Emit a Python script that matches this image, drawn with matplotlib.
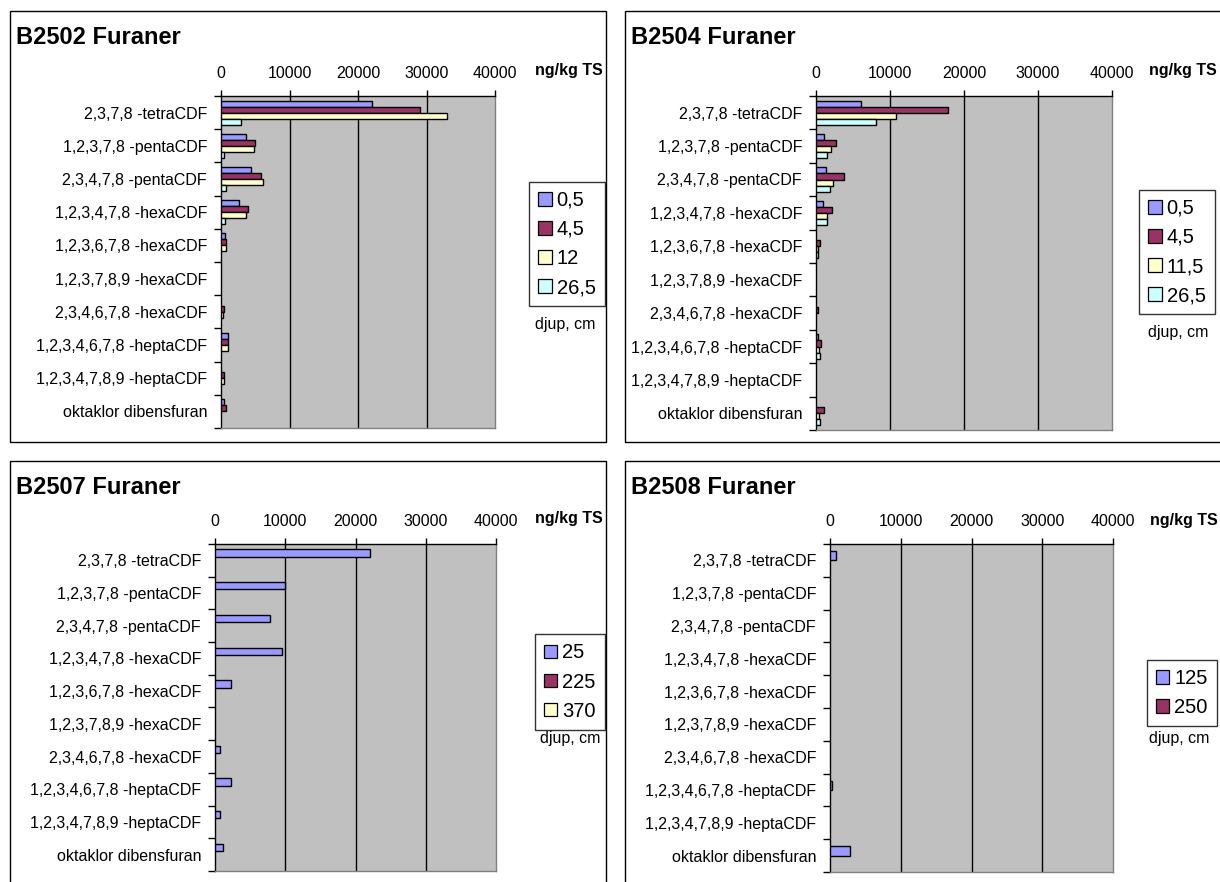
import numpy as np
import matplotlib
matplotlib.use("Agg")
import matplotlib.pyplot as plt
from matplotlib.patches import Rectangle, Patch

plt.rcParams['font.family'] = ['Liberation Sans', 'DejaVu Sans']

W, H = 1220, 882

# congeners, top to bottom
categories = ["2,3,7,8 -tetraCDF", "1,2,3,7,8 -pentaCDF", "2,3,4,7,8 -pentaCDF",
              "1,2,3,4,7,8 -hexaCDF", "1,2,3,6,7,8 -hexaCDF", "1,2,3,7,8,9 -hexaCDF",
              "2,3,4,6,7,8 -hexaCDF", "1,2,3,4,6,7,8 -heptaCDF", "1,2,3,4,7,8,9 -heptaCDF",
              "oktaklor dibensfuran"]

# ng/kg TS per depth (cm)
b2502_depths = ["0,5", "4,5", "12", "26,5"]
b2502_d05 = [22000, 3600, 4400, 2700, 530, 0, 0, 980, 0, 400]
b2502_d45 = [29000, 4900, 5800, 3900, 750, 0, 450, 980, 450, 750]
b2502_d12 = [33000, 4750, 6100, 3600, 750, 0, 350, 980, 400, 0]
b2502_d265 = [2900, 490, 690, 540, 0, 0, 0, 0, 0, 0]

b2504_depths = ["0,5", "4,5", "11,5", "26,5"]
b2504_d05 = [6100, 1030, 1340, 990, 0, 0, 0, 330, 0, 0]
b2504_d45 = [17800, 2700, 3850, 2200, 530, 0, 330, 690, 0, 1060]
b2504_d115 = [10800, 2000, 2350, 1480, 330, 0, 0, 450, 0, 450]
b2504_d265 = [8100, 1480, 1880, 1480, 330, 0, 0, 530, 0, 500]

b2507_depths = ["25", "225", "370"]
b2507_d25 = [22000, 10000, 7900, 9600, 2300, 0, 700, 2300, 700, 1100]
b2507_d225 = [0, 0, 0, 0, 0, 0, 0, 0, 0, 0]
b2507_d370 = [0, 0, 0, 0, 0, 0, 0, 0, 0, 0]

b2508_depths = ["125", "250"]
b2508_d125 = [830, 0, 0, 0, 0, 0, 0, 330, 0, 2800]
b2508_d250 = [0, 0, 0, 0, 0, 0, 0, 0, 0, 0]

colors = ['#9999FF', '#993366', '#FFFFCC', '#CCFFFF']
xticks = [0, 10000, 20000, 30000, 40000]

fig = plt.figure(figsize=(W / 100, H / 100), dpi=100)


def fx(x):
    return x / W


def fy(y):
    return 1 - y / H


def frame(x0, y0, x1, y1):
    fig.patches.append(Rectangle((fx(x0), fy(y1)), fx(x1) - fx(x0), fy(y0) - fy(y1),
                                 transform=fig.transFigure, fill=False,
                                 edgecolor='black', linewidth=1.0))


def panel(box, ax_px, title, series, depths, leg_center, djup_xy, unit_xy):
    x0, y0, x1, y1 = box
    frame(x0, y0, x1, y1)
    fig.text(fx(x0 + 6), fy(y0 + 26), title, fontsize=17, fontweight='bold',
             va='center', ha='left')

    l, r, t, b = ax_px
    ax = fig.add_axes([fx(l), fy(b), fx(r) - fx(l), fy(t) - fy(b)])
    ax.set_facecolor('#C0C0C0')

    # bars grouped per congener, 150 % gap between groups
    n = len(series)
    gw = n / (n + 1.5)
    h = gw / n
    ypos = np.arange(len(categories))
    for i, vals in enumerate(series):
        vals = np.array(vals, dtype=float)
        keep = vals > 0
        ax.barh(ypos[keep] - gw / 2 + (i + 0.5) * h, vals[keep], height=h,
                color=colors[i], edgecolor='black', linewidth=1.0, zorder=3)

    ax.set_xlim(0, 40000)
    ax.set_ylim(len(categories) - 0.5, -0.5)
    ax.xaxis.tick_top()
    ax.set_xticks(xticks)
    ax.set_xticklabels([str(v) for v in xticks])
    ax.tick_params(axis='x', direction='out', length=4, width=1, pad=7,
                   labelsize=11.5)
    for v in xticks[1:-1]:
        ax.axvline(v, color='black', linewidth=1, zorder=1)

    ax.set_yticks(ypos)
    ax.set_yticklabels(categories)
    ax.set_yticks(np.arange(len(categories) + 1) - 0.5, minor=True)
    ax.tick_params(axis='y', which='major', length=0, pad=10, labelsize=11.5)
    ax.tick_params(axis='y', which='minor', direction='out', length=5, width=1)

    ax.spines['top'].set_color('black')
    ax.spines['left'].set_color('black')
    ax.spines['right'].set_color('#808080')
    ax.spines['bottom'].set_color('#808080')
    for s in ax.spines.values():
        s.set_linewidth(1)

    handles = [Patch(facecolor=colors[i], edgecolor='black', linewidth=0.9)
               for i in range(n)]
    leg = fig.legend(handles, depths, loc='center',
                     bbox_to_anchor=(fx(leg_center[0]), fy(leg_center[1])),
                     fontsize=14.5, frameon=True, fancybox=False,
                     handlelength=0.65, handleheight=0.65, handletextpad=0.25,
                     labelspacing=0.5, borderpad=0.45)
    leg.get_frame().set_edgecolor('black')
    leg.get_frame().set_linewidth(1)

    fig.text(fx(djup_xy[0]), fy(djup_xy[1]), "djup, cm", fontsize=11.5,
             ha='center', va='center')
    fig.text(fx(unit_xy[0]), fy(unit_xy[1]), "ng/kg TS", fontsize=11.5,
             fontweight='bold', ha='center', va='center')


panel((10, 11, 606, 442), (221, 495, 96, 428), "B2502 Furaner",
      [b2502_d05, b2502_d45, b2502_d12, b2502_d265], b2502_depths,
      (567, 244), (565, 325), (569, 71))

panel((625, 11, 1240, 442), (816, 1112, 96, 430), "B2504 Furaner",
      [b2504_d05, b2504_d45, b2504_d115, b2504_d265], b2504_depths,
      (1177, 252), (1178, 333), (1183, 70))

panel((10, 461, 606, 900), (215, 496, 544, 871), "B2507 Furaner",
      [b2507_d25, b2507_d225, b2507_d370], b2507_depths,
      (570, 682), (570, 738), (569, 519))

panel((625, 461, 1240, 900), (830, 1113, 544, 872), "B2508 Furaner",
      [b2508_d125, b2508_d250], b2508_depths,
      (1182, 693), (1179, 739), (1184, 521))

fig.savefig("out.png", dpi=100)
